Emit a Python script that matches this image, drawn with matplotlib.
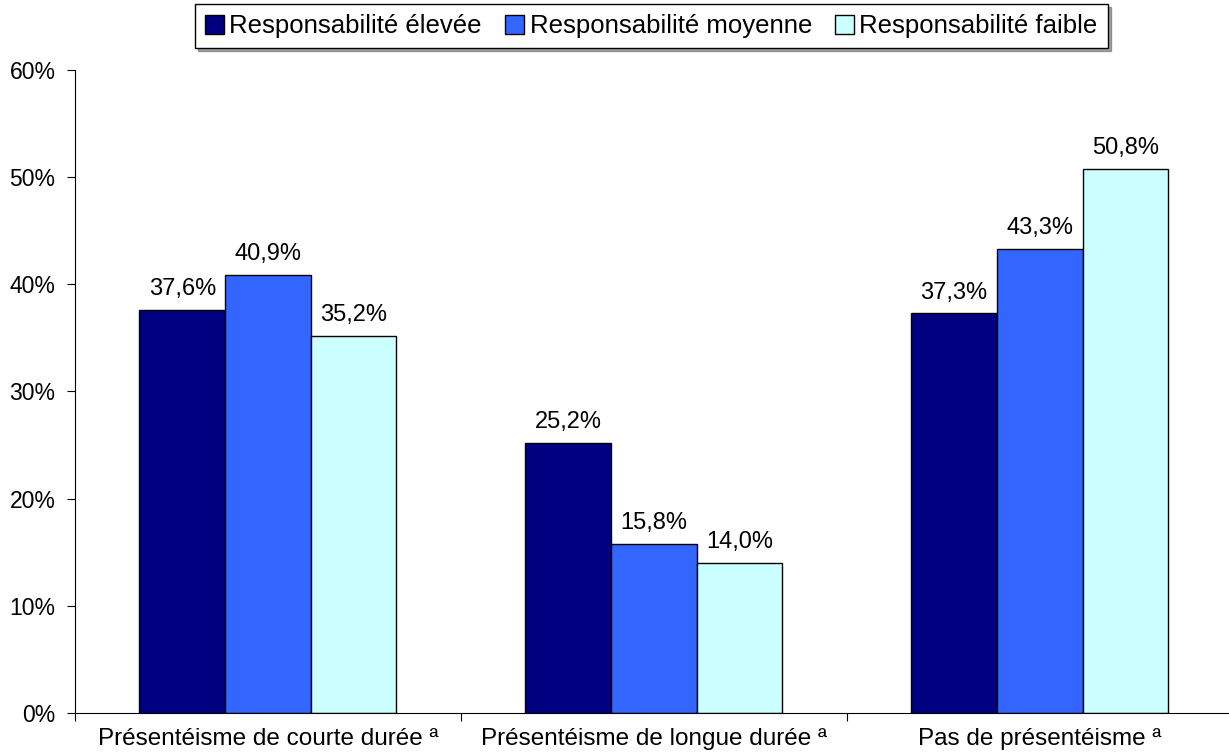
import matplotlib.pyplot as plt
import numpy as np

plt.rcParams['font.family'] = ['Liberation Sans', 'DejaVu Sans']

categories = ["Présentéisme de courte durée ª", "Présentéisme de longue durée ª", "Pas de présentéisme ª"]
series = ["Responsabilité élevée", "Responsabilité moyenne", "Responsabilité faible"]
elevee = [37.6, 25.2, 37.3]
moyenne = [40.9, 15.8, 43.3]
faible = [35.2, 14.0, 50.8]
colors = ["#000080", "#3366FF", "#CCFFFF"]

fig = plt.figure(figsize=(12.29, 7.55), dpi=100)
ax = fig.add_axes([0.061, 0.056, 0.942, 0.851])

x = np.arange(len(categories))
w = 0.222
for i, (vals, name, c) in enumerate(zip([elevee, moyenne, faible], series, colors)):
    pos = x + (i - 1) * w
    ax.bar(pos, vals, w, color=c, edgecolor="black", linewidth=1, label=name)
    for p, v in zip(pos, vals):
        ax.text(p, v + 0.9, f"{v:.1f}%".replace(".", ","), ha="center", va="bottom", fontsize=17)

ax.set_xlim(-0.5, 2.5)
ax.set_ylim(0, 60)
ax.set_yticks(range(0, 61, 10))
ax.set_yticklabels([f"{t}%" for t in range(0, 61, 10)], fontsize=16.5)
ax.set_xticks([-0.5, 0.5, 1.5, 2.5])
ax.set_xticklabels([])
ax.set_xticks(x, minor=True)
ax.set_xticklabels(categories, minor=True, fontsize=17.5)
ax.tick_params(axis="x", which="minor", length=0, pad=11)
ax.tick_params(axis="x", which="major", length=6, direction="out")
ax.tick_params(axis="y", length=6, direction="out", pad=8)
ax.spines["top"].set_visible(False)
ax.spines["right"].set_visible(False)

leg = fig.legend(loc="upper center", bbox_to_anchor=(0.53, 1.0), ncol=3, fontsize=18.5,
                 frameon=True, fancybox=False, shadow=True, edgecolor="black",
                 handlelength=0.75, handleheight=0.75, handletextpad=0.2, columnspacing=0.9,
                 borderpad=0.4, borderaxespad=0.15)
leg.get_frame().set_linewidth(1)

fig.savefig("out.png", dpi=100)
